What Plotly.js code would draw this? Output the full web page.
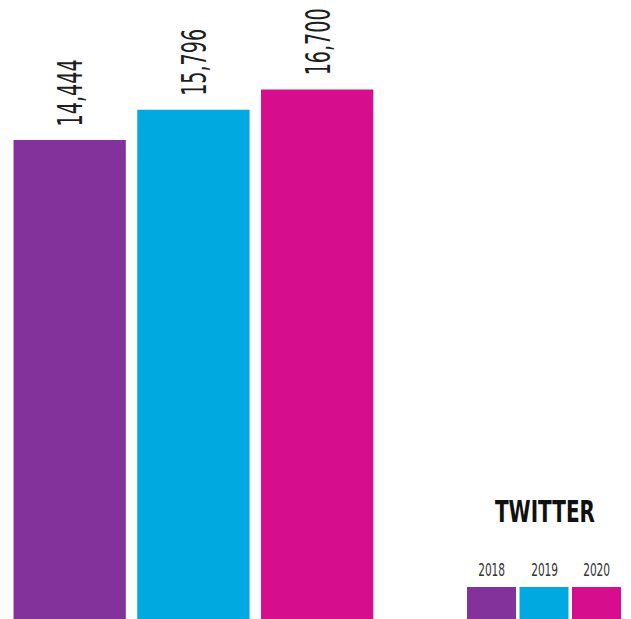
<!DOCTYPE html>
<html>
<head>
<meta charset="utf-8">
<script src="https://cdn.plot.ly/plotly-3.0.1.min.js"></script>
<style>
  html, body { margin: 0; padding: 0; background: #ffffff; }
  #chart { width: 631px; height: 619px; }
  #chart text { font-stretch: condensed; }
</style>
</head>
<body>
<div id="chart"></div>
<script>
// ---- data ----
const years = ['2018', '2019', '2020'];
const users = [14444, 15796, 16700];
const labels = ['14,444', '15,796', '16,700'];
const colors = ['#84329B', '#00A9E0', '#D60D8C'];
const platform = 'TWITTER';

// ---- axis settings (infographic uses a non-zero floor) ----
const AXIS_FLOOR = -6942;
const AXIS_TOP = 20692;

const W = 631, H = 619;
const FONT = '"DejaVu Sans", sans-serif';

const trace = {
  type: 'bar',
  x: years,
  y: users.map(v => v - AXIS_FLOOR),
  base: AXIS_FLOOR,
  marker: { color: colors, line: { width: 0 } },
  hoverinfo: 'skip',
  showlegend: false
};

// target rendered text lengths (condensed display face emulation)
const textLengths = [];

const annotations = years.map((yr, i) => {
  textLengths.push(67);
  return {
    x: i, y: users[i], xref: 'x', yref: 'y',
    text: labels[i], showarrow: false, textangle: -90,
    xanchor: 'center', yanchor: 'middle', yshift: 47, xshift: 1,
    font: { family: FONT, size: 33, color: '#1e1e1e' }
  };
});

// legend block (drawn as shapes + text)
const legX0 = 467, legW = 49, legGap = 3.5, legTop = 587, legBottom = 619;
const shapes = [];
years.forEach((yr, i) => {
  const x0 = legX0 + i * (legW + legGap);
  shapes.push({
    type: 'rect', xref: 'paper', yref: 'paper',
    x0: x0 / W, x1: (x0 + legW) / W,
    y0: 1 - legBottom / H, y1: 1 - legTop / H,
    fillcolor: colors[i], line: { width: 0 }
  });
  textLengths.push(27);
  annotations.push({
    xref: 'paper', yref: 'paper',
    x: (x0 + legW / 2) / W, y: 1 - 570 / H,
    text: yr, showarrow: false, xanchor: 'center', yanchor: 'middle',
    font: { family: FONT, size: 17, color: '#333333' }
  });
});
textLengths.push(100);
annotations.push({
  xref: 'paper', yref: 'paper',
  x: 545 / W, y: 1 - 511 / H,
  text: '<b>' + platform + '</b>', showarrow: false,
  xanchor: 'center', yanchor: 'middle',
  font: { family: FONT, size: 30, color: '#111111' }
});

const layout = {
  width: W, height: H,
  margin: { l: 0, r: 0, t: 0, b: 0, pad: 0 },
  paper_bgcolor: '#ffffff', plot_bgcolor: '#ffffff',
  bargap: 0.0925,
  xaxis: { type: 'category', range: [-0.563, 4.536], visible: false, fixedrange: true },
  yaxis: { range: [AXIS_FLOOR, AXIS_TOP], visible: false, fixedrange: true },
  showlegend: false,
  shapes: shapes,
  annotations: annotations
};

Plotly.newPlot('chart', [trace], layout, { displayModeBar: false, staticPlot: true }).then(gd => {
  gd.querySelectorAll('g.annotation').forEach(g => {
    const idx = +g.getAttribute('data-index');
    const t = g.querySelector('text.annotation-text');
    const len = textLengths[idx];
    if (t && len) {
      t.setAttribute('textLength', len);
      t.setAttribute('lengthAdjust', 'spacingAndGlyphs');
      // shrink the (invisible) annotation box to the squeezed text
      const r = g.querySelector('rect.bg');
      if (r) {
        const oldW = +r.getAttribute('width');
        const newW = len + 4;
        if (oldW > newW) {
          const oldX = +r.getAttribute('x') || 0;
          r.setAttribute('x', oldX + (oldW - newW) / 2);
          r.setAttribute('width', newW);
        }
      }
    }
  });
});
</script>
</body>
</html>
